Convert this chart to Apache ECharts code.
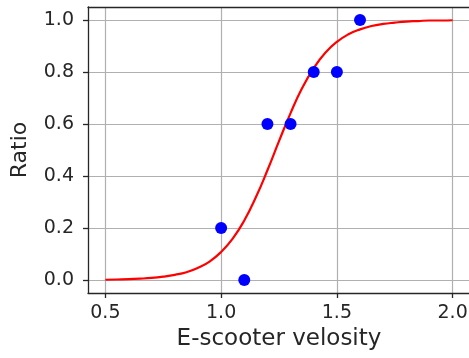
<!DOCTYPE html>
<html>
<head>
<meta charset="utf-8">
<script src="https://cdn.jsdelivr.net/npm/echarts@6/dist/echarts.min.js"></script>
<style>
  html, body { margin: 0; padding: 0; background: #fff; }
  #chart { width: 469px; height: 358px; }
</style>
</head>
<body>
<div id="chart"></div>
<script>
// Observed ratios at each e-scooter velocity
const velocities = [1.0, 1.1, 1.2, 1.3, 1.4, 1.5, 1.6];
const ratios = [0.2, 0.0, 0.6, 0.6, 0.8, 0.8, 1.0];

// Fitted logistic curve, sampled along the velocity range
const curveX = [0.50, 0.55, 0.60, 0.65, 0.70, 0.75, 0.80, 0.85, 0.90, 0.95,
                1.00, 1.05, 1.10, 1.15, 1.20, 1.25, 1.30, 1.35, 1.40, 1.45,
                1.50, 1.55, 1.60, 1.65, 1.70, 1.75, 1.80, 1.85, 1.90, 1.95, 2.00];
const curveY = [0.001, 0.002, 0.003, 0.005, 0.008, 0.013, 0.020, 0.030, 0.047, 0.071,
                0.108, 0.159, 0.229, 0.318, 0.422, 0.534, 0.642, 0.738, 0.815, 0.874,
                0.916, 0.945, 0.964, 0.977, 0.985, 0.990, 0.994, 0.996, 0.998, 0.998, 0.999];

const xTicks = [0.5, 1.0, 1.5, 2.0];
const yTicks = [0.0, 0.2, 0.4, 0.6, 0.8, 1.0];

const font = 'DejaVu Sans';
const axisColor = '#262626';
const gridColor = '#b0b0b0';
const spine = { color: axisColor, width: 1.3 };

const chart = echarts.init(document.getElementById('chart'), null, { renderer: 'canvas' });

// Grid lines at each labelled tick, drawn through the axes' own scales
const gridMarks = [
  ...xTicks.map(v => ({ xAxis: v })),
  ...yTicks.map(v => ({ yAxis: v }))
];

chart.setOption({
  animation: false,
  backgroundColor: '#ffffff',
  grid: {
    left: 88, top: 7, width: 382, height: 286,
    outerBoundsMode: 'none',
    containLabel: false,
    show: false
  },
  xAxis: [
    {
      type: 'value',
      min: 0.425, max: 2.075,
      name: 'E-scooter velosity',
      nameLocation: 'middle',
      nameGap: 35,
      nameTextStyle: { fontFamily: font, fontSize: 23, color: axisColor },
      axisLine: { show: true, onZero: false, lineStyle: spine },
      axisTick: { show: true, length: 5, customValues: xTicks, lineStyle: spine },
      axisLabel: {
        customValues: xTicks, margin: 11,
        fontFamily: font, fontSize: 19, color: axisColor,
        formatter: v => v.toFixed(1)
      },
      splitLine: { show: false }
    },
    {
      // top spine of the plot frame
      type: 'value',
      position: 'top',
      min: 0.425, max: 2.075,
      axisLine: { show: true, onZero: false, lineStyle: spine },
      axisTick: { show: false },
      axisLabel: { show: false },
      splitLine: { show: false }
    }
  ],
  yAxis: {
    type: 'value',
    min: -0.05, max: 1.05,
    name: 'Ratio',
    nameLocation: 'middle',
    nameGap: 57,
    nameTextStyle: { fontFamily: font, fontSize: 22, color: axisColor },
    axisLine: { show: true, onZero: false, lineStyle: spine },
    axisTick: { show: true, length: 5, customValues: yTicks, lineStyle: spine },
    axisLabel: {
      customValues: yTicks, margin: 14,
      fontFamily: font, fontSize: 19, color: axisColor,
      formatter: v => v.toFixed(1)
    },
    splitLine: { show: false }
  },
  series: [
    {
      type: 'line',
      data: curveX.map((x, i) => [x, curveY[i]]),
      smooth: true,
      showSymbol: false,
      lineStyle: { color: '#ff0000', width: 2.2 },
      z: 2,
      markLine: {
        silent: true,
        symbol: 'none',
        label: { show: false },
        lineStyle: { color: gridColor, width: 1.2, type: 'solid' },
        z: 0,
        data: gridMarks
      }
    },
    {
      type: 'scatter',
      data: velocities.map((x, i) => [x, ratios[i]]),
      symbol: 'circle',
      symbolSize: 12,
      itemStyle: { color: '#0000ff', opacity: 1 },
      z: 3
    }
  ]
});
</script>
</body>
</html>
